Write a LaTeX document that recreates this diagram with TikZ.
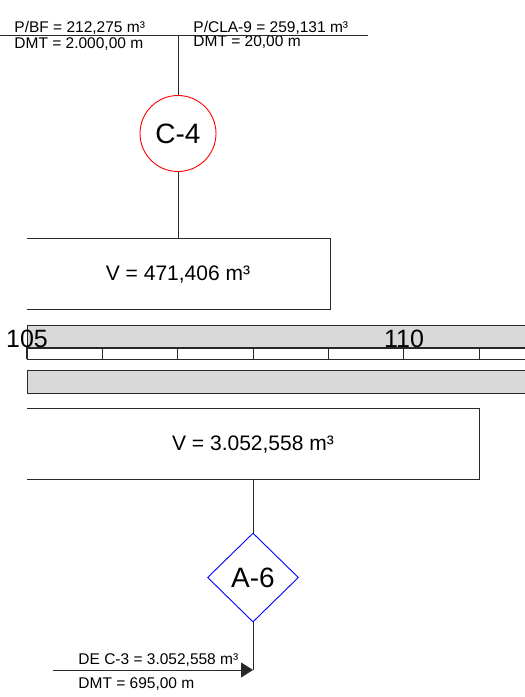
\documentclass[tikz,border=0pt]{standalone}
\usepackage{fontspec}
\setmainfont{Liberation Sans}
\usetikzlibrary{shapes.geometric,arrows.meta}
\definecolor{linegray}{RGB}{40,40,40}
\definecolor{bandgray}{RGB}{217,217,217}
\newcommand{\smalltxt}{\fontsize{15.5}{18}\selectfont}
\newcommand{\boxtxt}{\fontsize{21}{24}\selectfont}
\newcommand{\bigtxt}{\fontsize{28}{32}\selectfont}
\newcommand{\rulertxt}{\fontsize{25}{28}\selectfont}
\begin{document}
\begin{tikzpicture}[x=1pt,y=-1pt,line width=0.9pt,draw=linegray,
    lbl/.style={inner sep=0pt,anchor=base west},
    band/.style={fill=bandgray,draw=linegray},
    volbox/.style={draw=linegray}]
\useasboundingbox (0,0) rectangle (525,697);
% entrada do bota-fora / caixa de emprestimo
\node[lbl] (pbf) at (14,32.5) {\smalltxt P/BF = 212,275 m³};
\node[lbl] (dbf) at (14,48) {\smalltxt DMT = 2.000,00 m};
\node[lbl] (pcla) at (193,32.5) {\smalltxt P/CLA-9 = 259,131 m³};
\node[lbl] (dcla) at (193,46.5) {\smalltxt DMT = 20,00 m};
\coordinate (hl) at (0,35.5);
\coordinate (hr) at (368,35.5);
\coordinate (hm) at (178,35.5);
\draw (hl) -- (hr);
% corte C-4
\node[draw=red,circle,minimum size=76pt,inner sep=0pt] (c4) at (178,133.5) {\bigtxt C-4};
\draw (hm) -- (c4.north);
% volume 1
\coordinate (v1top) at (178,238);
\draw[volbox] (27,238) -- (330,238) -- (330,309) -- (27,309);
\node[inner sep=0pt] (vol1) at (178,275) {\boxtxt V = 471,406 m³};
\draw (c4.south) -- (v1top);
% faixa das estacas
\fill[bandgray] (27,325) rectangle (526,348);
\draw (526,325) -| (27,348);
\fill[bandgray] (27,370) rectangle (526,393);
\draw (526,370) -| (27,393) -- (526,393);
\draw[line width=1.6pt] (27,348) -- (526,348);
\draw[line width=0.6pt] (27,359) -- (526,359);
\foreach \i in {1,...,6}
    \draw[line width=0.6pt] (27+75.33*\i,348) -- (27+75.33*\i,359);
\draw[line width=1.6pt] (27,347) -- (27,359.3);
\node[inner sep=0pt,anchor=base] (e105) at (27,347) {\rulertxt 105};
\node[inner sep=0pt,anchor=base] (e110) at (404,347) {\rulertxt 110};
% volume 2
\coordinate (v2bot) at (253,479);
\draw[volbox] (27,408) -- (479,408) -- (479,479) -- (27,479);
\node[inner sep=0pt] (vol2) at (253,445) {\boxtxt V = 3.052,558 m³};
% aterro A-6
\node[draw=blue,diamond,minimum width=91pt,minimum height=89pt,inner sep=0pt] (a6) at (253,577.5) {\bigtxt A-6};
\draw (v2bot) -- (a6.north);
% saida de C-3
\coordinate (arrend) at (253,670);
\coordinate (arrbeg) at (53,670);
\draw (a6.south) -- (arrend);
\draw[-{Triangle[length=12pt,width=15pt]}] (arrbeg) -- (arrend);
\node[lbl] (dec3) at (78,664) {\smalltxt DE C-3 = 3.052,558 m³};
\node[lbl] (dmt3) at (78,688) {\smalltxt DMT = 695,00 m};
\end{tikzpicture}
\end{document}
